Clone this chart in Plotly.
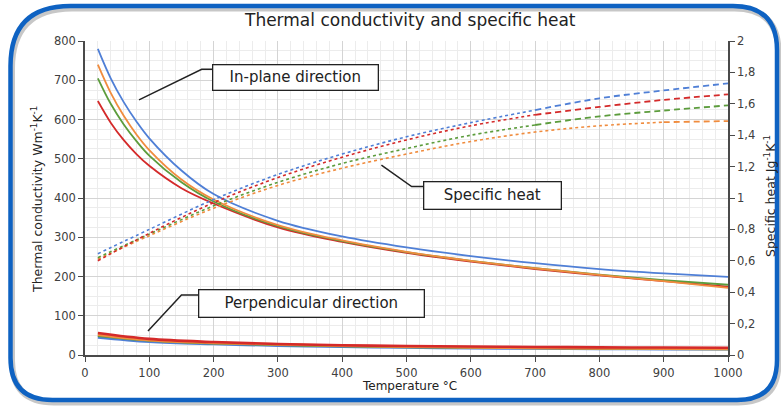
import plotly.graph_objects as go

W, H = 781, 406

# ---------------- data ----------------
temps_k = [20, 40, 60, 80, 100, 150, 200, 300, 400, 500, 600, 700, 800, 900, 1000]
inplane = {
    "blue":   [780, 705, 645, 595, 552, 470, 410, 342, 302, 274, 252, 234, 219, 208, 199],
    "orange": [740, 668, 610, 562, 522, 447, 396, 331, 292, 263, 240, 221, 204, 188, 171],
    "green":  [705, 640, 588, 545, 508, 440, 391, 328, 290, 262, 240, 221, 205, 191, 179],
    "red":    [647, 592, 548, 512, 482, 425, 386, 325, 288, 260, 238, 219, 203, 188, 174],
}

temps_p = [20, 100, 200, 300, 400, 500, 600, 700, 800, 900, 1000]
perp = {
    "blue":   [45, 34, 28, 24, 21, 19, 17.5, 16.5, 15.5, 15, 14.5],
    "green":  [49, 37, 30, 26, 23, 20.5, 19, 18, 17, 16, 15.5],
    "orange": [52, 38, 31, 27, 23.5, 21, 19.5, 18, 17, 16, 15.5],
    "red":    [56, 41, 33, 28, 25, 23, 21.5, 20.5, 19.5, 19, 18.5],
}

temps_cp = [20, 100, 200, 300, 400, 500, 600, 700, 800, 900, 1000]
cp = {
    "blue":   [0.645, 0.80, 0.99, 1.15, 1.28, 1.39, 1.48, 1.56, 1.635, 1.685, 1.73],
    "red":    [0.60, 0.775, 0.97, 1.13, 1.26, 1.37, 1.46, 1.53, 1.58, 1.625, 1.66],
    "green":  [0.62, 0.77, 0.95, 1.10, 1.22, 1.315, 1.40, 1.465, 1.52, 1.557, 1.59],
    "orange": [0.61, 0.76, 0.935, 1.08, 1.19, 1.28, 1.36, 1.42, 1.46, 1.483, 1.49],
}
dash_from = {"blue": 700, "red": 700, "green": 700, "orange": 900}

x_ticks = list(range(0, 1001, 100))
y_ticks = list(range(0, 801, 100))
y2_ticks = [0, 0.2, 0.4, 0.6, 0.8, 1, 1.2, 1.4, 1.6, 1.8, 2]

colors = {"blue": "#4F7FD6", "orange": "#F08C3E", "green": "#5C9C3C", "red": "#D42A2A"}
FONT = "DejaVu Sans"

fig = go.Figure()

# specific heat (right axis): dotted part then dashed part
for name in ["orange", "green", "red", "blue"]:
    xs, ys = temps_cp, cp[name]
    k = xs.index(dash_from[name])
    fig.add_trace(go.Scatter(x=xs[:k + 1], y=ys[:k + 1], yaxis="y2", mode="lines",
                             line=dict(color=colors[name], width=1.6, dash="dot", shape="spline"),
                             hoverinfo="skip"))
    fig.add_trace(go.Scatter(x=xs[k:], y=ys[k:], yaxis="y2", mode="lines",
                             line=dict(color=colors[name], width=1.8, dash="6px,4px", shape="spline"),
                             hoverinfo="skip"))

# in-plane conductivity
for name in ["red", "green", "orange", "blue"]:
    fig.add_trace(go.Scatter(x=temps_k, y=inplane[name], mode="lines",
                             line=dict(color=colors[name], width=1.8, shape="spline"),
                             hoverinfo="skip"))

# perpendicular conductivity
for name in ["blue", "green", "orange", "red"]:
    fig.add_trace(go.Scatter(x=temps_p, y=perp[name], mode="lines",
                             line=dict(color=colors[name], width=2.6, shape="spline"),
                             hoverinfo="skip"))

def px(x):
    return x / W

def py(y):
    return 1 - y / H

x_dom = [px(85), px(728)]
y_dom = [py(355), py(41)]

axis_common = dict(
    showline=True, linecolor="#4a4a4a", linewidth=1.5,
    ticks="outside", ticklen=5, tickwidth=1.3, tickcolor="#4a4a4a",
    tickfont=dict(family=FONT, size=11.5, color="#404040"),
    zeroline=False, automargin=False,
)

fig.update_layout(
    width=W, height=H,
    margin=dict(l=0, r=0, t=0, b=0, autoexpand=False),
    paper_bgcolor="white", plot_bgcolor="white",
    showlegend=False,
    separators=",.",
    xaxis=dict(domain=x_dom, range=[0, 1000], tickvals=x_ticks,
               showgrid=True, gridcolor="#D4D4D4", gridwidth=1,
               minor=dict(dtick=20, showgrid=True, gridcolor="#ECECEC", gridwidth=1),
               anchor="y", ticklabelstandoff=1, **axis_common),
    yaxis=dict(domain=y_dom, range=[0, 800], tickvals=y_ticks,
               showgrid=True, gridcolor="#D4D4D4", gridwidth=1,
               minor=dict(dtick=25, showgrid=True, gridcolor="#ECECEC", gridwidth=1),
               anchor="x", **axis_common),
    yaxis2=dict(range=[0, 2], tickvals=y2_ticks, overlaying="y", side="right",
                anchor="x", showgrid=False, **axis_common),
)

ann = []
def paper_text(txt, x, y, size, angle=0):
    return dict(text=txt, x=px(x), y=py(y), xref="paper", yref="paper",
                xanchor="center", yanchor="middle", showarrow=False, textangle=angle,
                font=dict(family=FONT, size=size, color="#222"))

ann.append(paper_text("Thermal conductivity and specific heat", 410, 20, 17))
ann.append(paper_text("Temperature °C", 410, 386, 12))
ann.append(paper_text("Thermal conductivity Wm<sup>-1</sup>K<sup>-1</sup>", 37, 200, 12.5, -90))
ann.append(paper_text("Specific heat Jg<sup>-1</sup>K<sup>-1</sup>", 770, 196, 12.5, -90))

boxes = [
    ("In-plane direction", 328, 708, 164, 24),
    ("Specific heat", 634, 406, 136, 26),
    ("Perpendicular direction", 353, 130, 224, 26),
]
for txt, bx, by, bw, bh in boxes:
    ann.append(dict(text=txt, x=bx, y=by, xref="x", yref="y", showarrow=False,
                    xanchor="center", yanchor="middle",
                    width=bw, height=bh, bgcolor="white", bordercolor="#222",
                    borderwidth=1.3, borderpad=0,
                    font=dict(family=FONT, size=15, color="#222")))
fig.update_layout(annotations=ann)

shapes = []
leaders = [
    [(84, 650), (181.5, 728), (199, 728)],
    [(461, 484), (508, 429), (526, 429)],
    [(98, 61), (150, 153), (178, 153)],
]
for pts in leaders:
    path = "M " + " L ".join(f"{a},{b}" for a, b in pts)
    shapes.append(dict(type="path", path=path, xref="x", yref="y",
                       line=dict(color="#222", width=1.5)))

def rounded_path(l, t, r, b, rtl, rtr, rbr, rbl, dx=0, dy=0):
    l, r = l + dx, r + dx
    t, b = t + dy, b + dy
    def P(x, y):
        return f"{px(x):.5f},{py(y):.5f}"
    return (f"M {P(l + rtl, t)} L {P(r - rtr, t)} Q {P(r, t)} {P(r, t + rtr)} "
            f"L {P(r, b - rbr)} Q {P(r, b)} {P(r - rbr, b)} "
            f"L {P(l + rbl, b)} Q {P(l, b)} {P(l, b - rbl)} "
            f"L {P(l, t + rtl)} Q {P(l, t)} {P(l + rtl, t)} Z")

shapes.append(dict(type="path", xref="paper", yref="paper", layer="below",
                   path=rounded_path(10.5, 6, 777, 400, 60, 44, 40, 42, dx=1.5, dy=2.5),
                   line=dict(color="rgba(0,0,0,0.22)", width=6)))
shapes.append(dict(type="path", xref="paper", yref="paper", layer="above",
                   path=rounded_path(10.5, 6, 777, 400, 60, 44, 40, 42),
                   line=dict(color="#0E62C2", width=4.5)))
fig.update_layout(shapes=shapes)

fig.write_html("out.html")
